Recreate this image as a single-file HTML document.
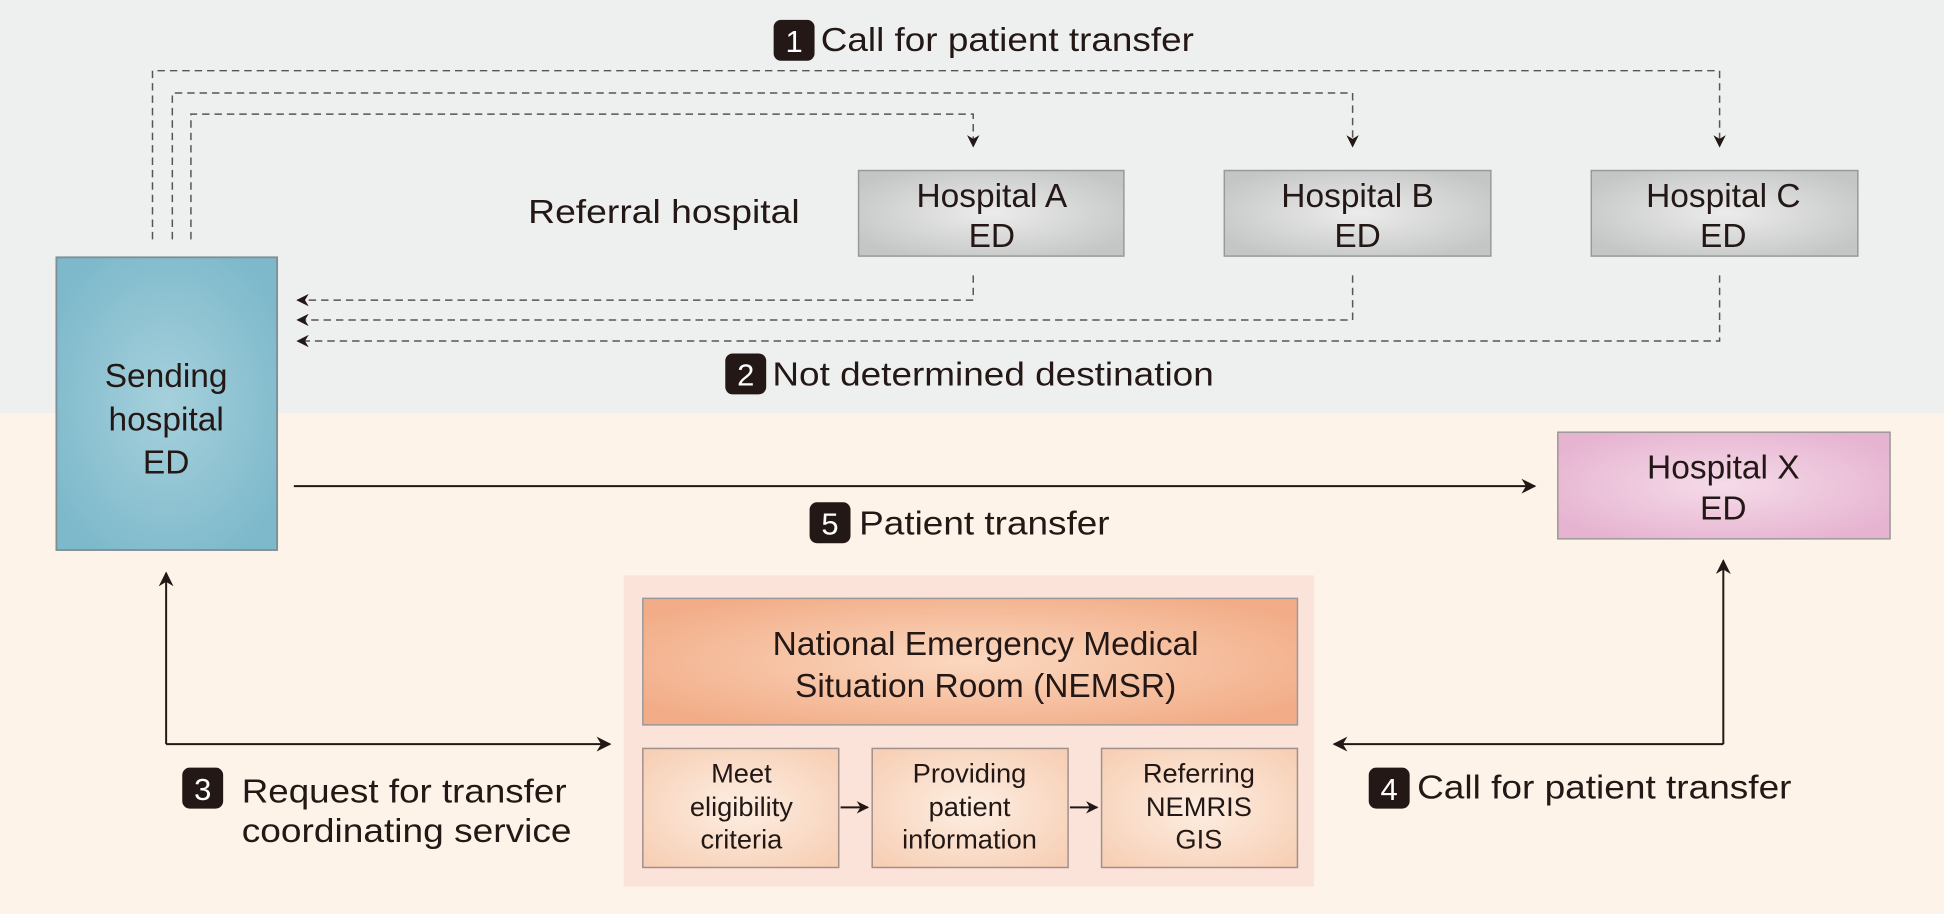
<!DOCTYPE html>
<html><head><meta charset="utf-8"><style>
html,body{margin:0;padding:0;background:#fdf3e8}
svg{display:block}
text{font-family:"Liberation Sans",Arial,sans-serif;fill:#231815}
</style></head><body>
<svg width="1944" height="914" viewBox="0 0 1568 737" preserveAspectRatio="none" xmlns="http://www.w3.org/2000/svg">
<defs>
<radialGradient id="teal" cx="50%" cy="50%" r="60%"><stop offset="0" stop-color="#a6d0dc"/><stop offset="1" stop-color="#7db9cb"/></radialGradient>
<radialGradient id="gray" cx="50%" cy="50%" r="60%"><stop offset="0" stop-color="#ececec"/><stop offset="1" stop-color="#c4c5c5"/></radialGradient>
<radialGradient id="pink" cx="50%" cy="50%" r="60%"><stop offset="0" stop-color="#f5dbe9"/><stop offset="1" stop-color="#e6b3d0"/></radialGradient>
<radialGradient id="orange" cx="50%" cy="50%" r="60%"><stop offset="0" stop-color="#fbd8bf"/><stop offset="1" stop-color="#f2ad88"/></radialGradient>
<radialGradient id="lor" cx="50%" cy="50%" r="65%"><stop offset="0" stop-color="#fdeee2"/><stop offset="1" stop-color="#f7cfb5"/></radialGradient>
<marker id="ah" viewBox="0 0 10 10" refX="9" refY="5" markerWidth="10" markerHeight="10" markerUnits="userSpaceOnUse" orient="auto"><path d="M0,0 L10,5 L0,10 L3,5 z" fill="#231815"/></marker>
<marker id="ah2" viewBox="0 0 10 10" refX="9" refY="5" markerWidth="12" markerHeight="12" markerUnits="userSpaceOnUse" orient="auto"><path d="M0,0 L10,5 L0,10 L3,5 z" fill="#231815"/></marker>
</defs>
<rect x="0" y="0" width="1568" height="333" fill="#eef0ef"/>
<rect x="0" y="333" width="1568" height="404" fill="#fdf3e8"/>

<g fill="none" stroke="#555" stroke-width="1.2" stroke-dasharray="6,4">
<path d="M123,193 V57 H1387 V118" marker-end="url(#ah)"/>
<path d="M139,193 V75 H1091 V118" marker-end="url(#ah)"/>
<path d="M154,193 V92 H785 V118" marker-end="url(#ah)"/>
<path d="M785,222 V242 H240" marker-end="url(#ah)"/>
<path d="M1091,222 V258 H240" marker-end="url(#ah)"/>
<path d="M1387,222 V275 H240" marker-end="url(#ah)"/>
</g>

<rect x="45.5" y="207.5" width="178" height="236" fill="url(#teal)" stroke="#7f8f96" stroke-width="1.5"/>
<rect x="692.5" y="137.5" width="214" height="69" fill="url(#gray)" stroke="#999" stroke-width="1.2"/>
<rect x="987.5" y="137.5" width="215" height="69" fill="url(#gray)" stroke="#999" stroke-width="1.2"/>
<rect x="1283.5" y="137.5" width="215" height="69" fill="url(#gray)" stroke="#999" stroke-width="1.2"/>
<rect x="1256.5" y="348.5" width="268" height="86" fill="url(#pink)" stroke="#999" stroke-width="1.2"/>
<rect x="503" y="464" width="557" height="251" fill="#fbe3da"/>
<rect x="518.5" y="482.5" width="528" height="102" fill="url(#orange)" stroke="#999" stroke-width="1.2"/>
<rect x="518.5" y="603.5" width="158" height="96" fill="url(#lor)" stroke="#a0908a" stroke-width="1.2"/>
<rect x="703.5" y="603.5" width="158" height="96" fill="url(#lor)" stroke="#a0908a" stroke-width="1.2"/>
<rect x="888.5" y="603.5" width="158" height="96" fill="url(#lor)" stroke="#a0908a" stroke-width="1.2"/>

<g fill="none" stroke="#231815" stroke-width="1.6">
<path d="M237,392 H1238" marker-end="url(#ah2)"/>
<path d="M134,600 V462" marker-end="url(#ah2)"/>
<path d="M134,600 H492" marker-end="url(#ah2)"/>
<path d="M1390,600 V452" marker-end="url(#ah2)"/>
<path d="M1390,600 H1076" marker-end="url(#ah2)"/>
<path d="M678,651 H700" marker-end="url(#ah)"/>
<path d="M863,651 H885" marker-end="url(#ah)"/>
</g>

<g fill="#231815">
<rect x="624" y="16" width="33" height="33" rx="6"/>
<rect x="585" y="285" width="33" height="33" rx="6"/>
<rect x="147" y="619" width="33" height="33" rx="6"/>
<rect x="1104" y="619" width="33" height="33" rx="6"/>
<rect x="653" y="405" width="33" height="33" rx="6"/>
</g>
<g font-size="25" text-anchor="middle">
<text x="640.5" y="42" style="fill:#fff">1</text>
<text x="601.5" y="311" style="fill:#fff">2</text>
<text x="163.5" y="645" style="fill:#fff">3</text>
<text x="1120.5" y="645" style="fill:#fff">4</text>
<text x="669.5" y="431" style="fill:#fff">5</text>
</g>

<g font-size="27" lengthAdjust="spacingAndGlyphs">
<text x="662" y="41" textLength="301" lengthAdjust="spacingAndGlyphs">Call for patient transfer</text>
<text x="623" y="311" textLength="356" lengthAdjust="spacingAndGlyphs">Not determined destination</text>
<text x="693" y="431" textLength="202" lengthAdjust="spacingAndGlyphs">Patient transfer</text>
<text x="195" y="647" textLength="262" lengthAdjust="spacingAndGlyphs">Request for transfer</text>
<text x="195" y="679" textLength="266" lengthAdjust="spacingAndGlyphs">coordinating service</text>
<text x="1143" y="644" textLength="302" lengthAdjust="spacingAndGlyphs">Call for patient transfer</text>
<text x="426" y="180" textLength="219" lengthAdjust="spacingAndGlyphs">Referral hospital</text>
</g>

<g font-size="27" text-anchor="middle">
<text x="134" y="312">Sending</text>
<text x="134" y="347">hospital</text>
<text x="134" y="382">ED</text>
<text x="800" y="167">Hospital A</text>
<text x="800" y="199">ED</text>
<text x="1095" y="167">Hospital B</text>
<text x="1095" y="199">ED</text>
<text x="1390" y="167">Hospital C</text>
<text x="1390" y="199">ED</text>
<text x="1390" y="386">Hospital X</text>
<text x="1390" y="419">ED</text>
<text x="795" y="528">National Emergency Medical</text>
<text x="795" y="562">Situation Room (NEMSR)</text>
</g>
<g font-size="22" text-anchor="middle">
<text x="598" y="631">Meet</text>
<text x="598" y="658">eligibility</text>
<text x="598" y="684">criteria</text>
<text x="782" y="631">Providing</text>
<text x="782" y="658">patient</text>
<text x="782" y="684">information</text>
<text x="967" y="631">Referring</text>
<text x="967" y="658">NEMRIS</text>
<text x="967" y="684">GIS</text>
</g>
</svg>
</body></html>
